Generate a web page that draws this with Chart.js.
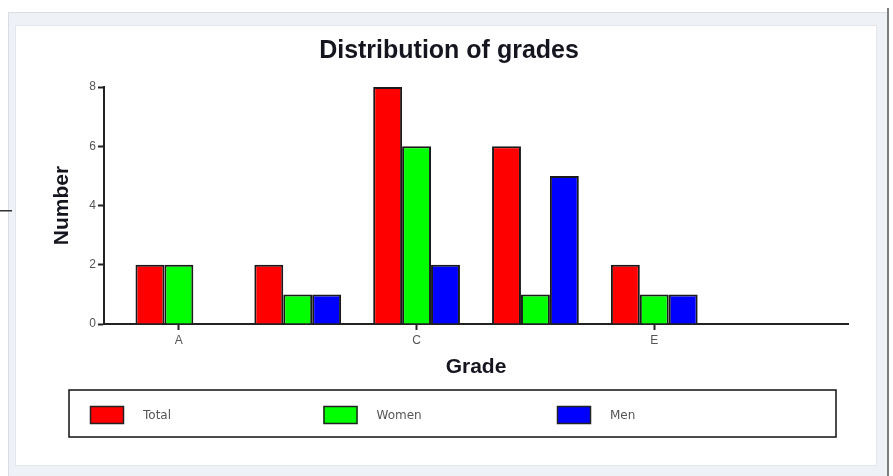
<!DOCTYPE html>
<html>
<head>
<meta charset="utf-8">
<script src="https://cdn.jsdelivr.net/npm/chart.js@4.4.1/dist/chart.umd.min.js"></script>
<style>
  html, body { margin: 0; padding: 0; background: #fff; }
  #wrap { position: relative; width: 893px; height: 476px; }
</style>
</head>
<body>
<div id="wrap"><canvas id="gradesChart"></canvas></div>
<script>
/* data */
const grades = ['A', 'B', 'C', 'D', 'E'];
const totalCounts = [2, 2, 8, 6, 2];
const womenCounts = [2, 1, 6, 1, 1];
const menCounts = [0, 1, 2, 5, 1];
const yTicks = [0, 2, 4, 6, 8];

const toPoints = arr => arr.map((v, i) => ({ x: i, y: v }));

/* ── window frame behind the chart ───────────────────── */
const framePlugin = {
    id: 'frame',
    beforeDraw(chart) {
        const c = chart.ctx;
        c.save();
        c.fillStyle = '#ffffff';
        c.fillRect(0, 0, chart.width, chart.height);
        // outer band
        c.fillStyle = '#eef1f5';
        c.fillRect(8, 12, 880, 464);
        c.strokeStyle = '#d9dee5';
        c.lineWidth = 1;
        c.strokeRect(8.5, 12.5, 879, 470);
        // inner white panel
        c.fillStyle = '#ffffff';
        c.fillRect(15, 25, 862, 441);
        c.strokeStyle = '#e3e7ec';
        c.strokeRect(15.5, 25.5, 861, 440);
        // right edge
        c.fillStyle = '#7d7d7d';
        c.fillRect(887, 8, 2, 468);
        // stub line on the left
        c.fillStyle = '#333';
        c.fillRect(0, 210, 12, 1.5);
        c.restore();
    }
};

/* ── boxed legend under the chart ─────────────────────── */
const boxLegendPlugin = {
    id: 'boxLegend',
    afterDraw(chart) {
        const c = chart.ctx;
        c.save();
        c.strokeStyle = '#111';
        c.lineWidth = 1.5;
        c.strokeRect(69, 390, 767, 47);
        c.font = '12px "DejaVu Sans"';
        c.textBaseline = 'middle';
        chart.data.datasets.forEach((ds, i) => {
            const x = 90 + i * 233.5;
            c.fillStyle = ds.backgroundColor;
            c.fillRect(x, 406, 34, 18);
            c.strokeStyle = '#222';
            c.lineWidth = 1.5;
            c.strokeRect(x + 0.5, 406.5, 33, 17);
            c.fillStyle = '#555';
            c.fillText(ds.label, x + 53, 416);
        });
        c.restore();
    }
};

const barStyle = {
    borderColor: '#1a1a1a',
    borderWidth: 2,
    categoryPercentage: 0.73,
    barPercentage: 1.0
};

new Chart(document.getElementById('gradesChart'), {
    type: 'bar',
    data: {
        datasets: [
            { label: 'Total', data: toPoints(totalCounts), backgroundColor: '#ff0000', ...barStyle },
            { label: 'Women', data: toPoints(womenCounts), backgroundColor: '#00ff00', ...barStyle },
            { label: 'Men', data: toPoints(menCounts), backgroundColor: '#0000ff', ...barStyle }
        ]
    },
    plugins: [framePlugin, boxLegendPlugin],
    options: {
        responsive: true,
        maintainAspectRatio: false,
        animation: false,
        layout: { padding: { left: 50, right: 45, top: 0, bottom: 0 } },
        plugins: {
            legend: { display: false },
            tooltip: { enabled: false },
            title: {
                display: true,
                text: 'Distribution of grades',
                color: '#15151f',
                font: { family: '"Liberation Sans", Arial', size: 25, weight: 'bold' },
                padding: { top: 36, bottom: 21 }
            }
        },
        scales: {
            x: {
                type: 'linear',
                offset: false,
                min: -0.63,
                max: grades.length + 0.63,
                afterBuildTicks: scale => {
                    scale.ticks = grades.map((g, i) => ({ value: i })).filter(t => t.value % 2 === 0);
                },
                afterFit: scale => { scale.height = 152; },
                grid: { offset: false, drawOnChartArea: false, drawTicks: true, tickLength: 6, tickColor: '#222', tickWidth: 2 },
                border: { color: '#222', width: 2 },
                ticks: {
                    padding: 3,
                    color: '#555',
                    font: { family: '"Liberation Sans", Arial', size: 12 },
                    callback: v => grades[v]
                },
                title: {
                    display: true,
                    text: 'Grade',
                    color: '#15151f',
                    font: { family: '"Liberation Sans", Arial', size: 21, weight: 'bold' },
                    padding: { top: 0, bottom: 96 }
                }
            },
            y: {
                min: 0,
                max: 8,
                afterBuildTicks: scale => { scale.ticks = yTicks.map(v => ({ value: v })); },
                afterFit: scale => { scale.width = 54; },
                grid: { drawOnChartArea: false, drawTicks: true, tickLength: 6, tickColor: '#222', tickWidth: 2 },
                border: { color: '#222', width: 2 },
                ticks: {
                    padding: 2,
                    color: '#555',
                    font: { family: '"Liberation Sans", Arial', size: 12 }
                },
                title: {
                    display: true,
                    text: 'Number',
                    color: '#15151f',
                    font: { family: '"Liberation Sans", Arial', size: 21, weight: 'bold' },
                    padding: { top: 0, bottom: 0 }
                }
            }
        }
    }
});
</script>
</body>
</html>
